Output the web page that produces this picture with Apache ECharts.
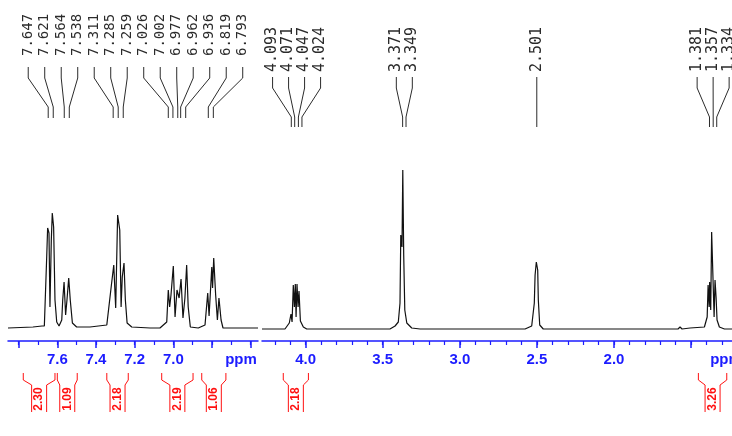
<!DOCTYPE html>
<html>
<head>
<meta charset="utf-8">
<script src="https://cdn.jsdelivr.net/npm/echarts@6/dist/echarts.min.js"></script>
<style>
  html, body { margin: 0; padding: 0; background: #fff; }
  #chart { width: 732px; height: 436px; }
</style>
</head>
<body>
<div id="chart"></div>
<script>
// spectrum traces [ppm, intensity] (arbitrary units)
const spectrumLeft = [
  [7.855, 0], [7.726, 1], [7.679, 2], [7.667, 2], [7.655, 70], [7.650, 100], [7.643, 95],
  [7.638, 21], [7.631, 88], [7.626, 115], [7.619, 101], [7.612, 28], [7.603, 6], [7.591, 2],
  [7.577, 8], [7.572, 28], [7.565, 46], [7.557, 13], [7.550, 28], [7.541, 50], [7.533, 28],
  [7.522, 5], [7.500, 1], [7.431, 1], [7.344, 3], [7.319, 45], [7.308, 63], [7.298, 20],
  [7.288, 113], [7.277, 98], [7.270, 21], [7.264, 51], [7.255, 65], [7.248, 28], [7.239, 5],
  [7.215, 1], [7.120, 0], [7.069, 0], [7.034, 6], [7.026, 38], [7.019, 21], [7.012, 33],
  [7.000, 62], [6.991, 11], [6.981, 38], [6.970, 30], [6.960, 49], [6.950, 10], [6.940, 30],
  [6.931, 63], [6.923, 21], [6.912, 1], [6.871, 0], [6.836, 3], [6.822, 35], [6.815, 12],
  [6.801, 61], [6.797, 40], [6.791, 70], [6.781, 33], [6.772, 8], [6.764, 30], [6.753, 8],
  [6.743, 0], [6.562, 0]
];
const spectrumRight = [
  [4.283, 0], [4.134, 0], [4.106, 6], [4.095, 15], [4.088, 7], [4.080, 44], [4.073, 22],
  [4.067, 45], [4.062, 12], [4.056, 45], [4.049, 22], [4.043, 38], [4.034, 8], [4.025, 10],
  [4.015, 2], [3.993, 0], [3.829, 0], [3.825, 2], [3.821, 0], [3.453, 0], [3.420, 3],
  [3.399, 7], [3.388, 26], [3.383, 94], [3.375, 82], [3.370, 159], [3.364, 74], [3.357, 19],
  [3.344, 6], [3.312, 1], [3.258, 0], [2.577, 0], [2.534, 3], [2.517, 26], [2.512, 54],
  [2.504, 67], [2.495, 59], [2.491, 29], [2.482, 4], [2.459, 0], [1.585, 0], [1.572, 2],
  [1.559, 0], [1.507, 1], [1.414, 2], [1.396, 12], [1.390, 44], [1.383, 22], [1.380, 47],
  [1.373, 19], [1.367, 97], [1.358, 96], [1.351, 12], [1.345, 49], [1.338, 31], [1.332, 9],
  [1.317, 2], [1.284, 0], [1.235, 0]
];

// picked peaks
const peaksLeft = [7.647, 7.621, 7.564, 7.538, 7.311, 7.285, 7.259, 7.026, 7.002, 6.977, 6.962, 6.936, 6.819, 6.793];
const peaksRight = [4.093, 4.071, 4.047, 4.024, 3.371, 3.349, 2.501, 1.381, 1.357, 1.334];

// integrals: ranges in ppm and values
const integralRangesLeft = [[7.776, 7.612], [7.600, 7.497], [7.344, 7.233], [7.060, 6.898], [6.853, 6.728]];
const integralValuesLeft = [2.30, 1.09, 2.18, 2.19, 1.06];
const integralRangesRight = [[4.145, 3.982], [1.453, 1.269]];
const integralValuesRight = [2.18, 3.26];

// axis ticks
const leftMajorTicks = [7.8, 7.6, 7.4, 7.2, 7.0, 6.8, 6.6];
const leftMinorTicks = [7.8, 7.7, 7.6, 7.5, 7.4, 7.3, 7.2, 7.1, 7.0, 6.9, 6.8, 6.7, 6.6];
const leftTickLabels = [7.6, 7.4, 7.2, 7.0];
const rightMajorTicks = [4.0, 3.5, 3.0, 2.5, 2.0, 1.5];
const rightMinorTicks = [4.2, 4.1, 4.0, 3.9, 3.8, 3.7, 3.6, 3.5, 3.4, 3.3, 3.2, 3.1, 3.0, 2.9, 2.8,
  2.7, 2.6, 2.5, 2.4, 2.3, 2.2, 2.1, 2.0, 1.9, 1.8, 1.7, 1.6, 1.5, 1.4, 1.3];
const rightTickLabels = [4.0, 3.5, 3.0, 2.5, 2.0];
// where the "ppm" unit sits on each axis
const unitLeft = 6.65;
const unitRight = 1.274;

const BLUE = '#1c1cff';
const RED = '#ff1010';
const INK = '#2b2b2b';

const chart = echarts.init(document.getElementById('chart'));

function axisPair(gridIndex, min, max, majors, minors, labels, unitAt) {
  const base = {
    gridIndex, type: 'value', min, max, inverse: true, position: 'bottom',
    splitLine: { show: false }
  };
  return [
    {
      ...base,
      axisLine: { show: true, onZero: false, lineStyle: { color: BLUE, width: 1.5 } },
      axisTick: { show: true, customValues: majors, length: 7, lineStyle: { color: BLUE, width: 1.5 } },
      axisLabel: {
        customValues: labels.concat([unitAt]),
        formatter: (v) => (Math.abs(v - unitAt) < 1e-6 ? 'ppm' : v.toFixed(1)),
        color: BLUE, fontWeight: 'bold', fontSize: 15, fontFamily: 'Liberation Sans', margin: 11
      }
    },
    {
      ...base,
      axisLine: { show: false, onZero: false },
      axisTick: { show: true, customValues: minors, length: 4, lineStyle: { color: BLUE, width: 1.2 } },
      axisLabel: { show: false }
    }
  ];
}

chart.setOption({
  animation: false,
  grid: [
    { left: 8, width: 250, top: 160, bottom: 95, containLabel: false, outerBoundsMode: 'none' },
    { left: 262, width: 470, top: 160, bottom: 95, containLabel: false, outerBoundsMode: 'none' }
  ],
  xAxis: [
    ...axisPair(0, 6.562, 7.855, leftMajorTicks, leftMinorTicks, leftTickLabels, unitLeft),
    ...axisPair(1, 1.235, 4.283, rightMajorTicks, rightMinorTicks, rightTickLabels, unitRight)
  ],
  yAxis: [
    { gridIndex: 0, type: 'value', min: -13, max: 168, show: false },
    { gridIndex: 1, type: 'value', min: -12, max: 169, show: false }
  ],
  series: [
    {
      type: 'line', xAxisIndex: 0, yAxisIndex: 0, data: spectrumLeft,
      showSymbol: false, lineStyle: { color: '#111', width: 1.2 }
    },
    {
      type: 'line', xAxisIndex: 2, yAxisIndex: 1, data: spectrumRight,
      showSymbol: false, lineStyle: { color: '#111', width: 1.2 }
    }
  ]
});

// spread labels so they don't overlap, keeping each cluster centred on its peaks
function spread(xs, gap) {
  let groups = xs.map((x) => ({ items: [x], c: x }));
  let merged = true;
  while (merged) {
    merged = false;
    for (let i = 0; i < groups.length - 1; i++) {
      const a = groups[i], b = groups[i + 1];
      const aEnd = a.c + (a.items.length - 1) * gap / 2;
      const bStart = b.c - (b.items.length - 1) * gap / 2;
      if (bStart - aEnd < gap) {
        const items = a.items.concat(b.items);
        groups.splice(i, 2, { items, c: items.reduce((s, v) => s + v, 0) / items.length });
        merged = true;
        break;
      }
    }
  }
  const out = [];
  groups.forEach((g) => {
    const start = g.c - (g.items.length - 1) * gap / 2;
    g.items.forEach((_, k) => out.push(start + k * gap));
  });
  return out;
}

const graphics = [];

function peakLabels(peaks, axisIndex, gap, fontSize, textBottom, y1, y2, y3, y4) {
  const px = peaks.map((p) => chart.convertToPixel({ xAxisIndex: axisIndex }, p));
  const lx = spread(px, gap);
  peaks.forEach((p, i) => {
    graphics.push({
      type: 'text', x: lx[i], y: textBottom, rotation: Math.PI / 2, silent: true,
      style: {
        text: p.toFixed(3), fill: INK, align: 'left', verticalAlign: 'middle',
        font: fontSize + 'px "DejaVu Sans Mono"'
      }
    });
    graphics.push({
      type: 'polyline', silent: true,
      shape: { points: [[lx[i], y1], [lx[i], y2], [px[i], y3], [px[i], y4]] },
      style: { stroke: INK, lineWidth: 1, fill: null }
    });
  });
}

function integrals(ranges, values, axisIndex) {
  ranges.forEach((r, i) => {
    const a = chart.convertToPixel({ xAxisIndex: axisIndex }, r[0]);
    const b = chart.convertToPixel({ xAxisIndex: axisIndex }, r[1]);
    const x0 = Math.min(a, b), x1 = Math.max(a, b), c = (x0 + x1) / 2;
    graphics.push({
      type: 'polyline', silent: true,
      shape: { points: [[x0, 373], [x0, 380], [c - 7.5, 385], [c - 7.5, 412]] },
      style: { stroke: RED, lineWidth: 1, fill: null }
    });
    graphics.push({
      type: 'polyline', silent: true,
      shape: { points: [[x1, 373], [x1, 380], [c + 7.5, 385], [c + 7.5, 412]] },
      style: { stroke: RED, lineWidth: 1, fill: null }
    });
    graphics.push({
      type: 'text', x: c, y: 399, rotation: Math.PI / 2, silent: true,
      style: {
        text: values[i].toFixed(2), fill: RED, align: 'center', verticalAlign: 'middle',
        font: 'bold 12px "Liberation Sans"'
      }
    });
  });
}

peakLabels(peaksLeft, 0, 16.5, 14, 56, 67, 78, 107, 118);
peakLabels(peaksRight, 2, 16, 15, 72, 77, 88, 117, 127);
integrals(integralRangesLeft, integralValuesLeft, 0);
integrals(integralRangesRight, integralValuesRight, 2);

chart.setOption({ graphic: graphics });
</script>
</body>
</html>
